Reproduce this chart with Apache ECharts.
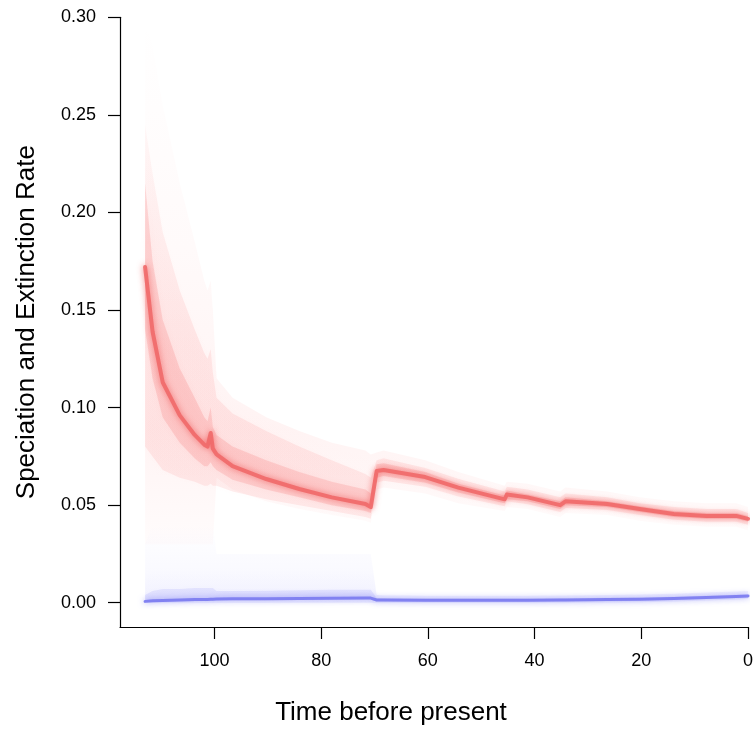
<!DOCTYPE html>
<html>
<head>
<meta charset="utf-8">
<script src="https://cdn.jsdelivr.net/npm/echarts@6/dist/echarts.min.js"></script>
<style>html,body{margin:0;padding:0;background:#fff}#c{width:756px;height:731px}</style>
</head>
<body>
<div id="c"></div>
<script>
// Time before present (Ma)
const times = [113, 111.6, 109.7, 106.5, 103.7, 101.9, 101.3, 100.7, 100.3, 99.6, 96.6, 90.3, 84.1, 78, 71.7, 70.7, 69.6, 68.3, 60.5, 54.3, 45.6, 45.2, 41.3, 35.2, 34.2, 26.4, 20.3, 13.9, 7.8, 2.2, 0];

// Speciation rate (red)
const speciationMedian = [0.172,0.139,0.113,0.096,0.086,0.081,0.080,0.087,0.079,0.076,0.070,0.0634,0.0583,0.054,0.0506,0.049,0.0675,0.068,0.0644,0.059,0.053,0.0555,0.054,0.050,0.052,0.0506,0.048,0.0455,0.0445,0.0445,0.043];
const speciationInnerLow = [0.140,0.115,0.095,0.082,0.074,0.070,0.070,0.072,0.070,0.068,0.063,0.058,0.054,0.050,0.047,0.046,0.064,0.065,0.0615,0.0565,0.051,0.053,0.052,0.048,0.050,0.049,0.0465,0.044,0.043,0.043,0.0415];
const speciationInnerHigh = [0.215,0.175,0.145,0.120,0.105,0.095,0.093,0.100,0.090,0.086,0.080,0.073,0.067,0.062,0.058,0.056,0.071,0.0715,0.067,0.061,0.055,0.0575,0.0555,0.052,0.054,0.052,0.0495,0.047,0.046,0.046,0.0445];
const speciationOuterLow = [0.080,0.075,0.068,0.064,0.062,0.060,0.060,0.061,0.060,0.060,0.057,0.053,0.050,0.047,0.044,0.043,0.0615,0.0625,0.0595,0.0545,0.0495,0.052,0.0505,0.0465,0.0485,0.0475,0.045,0.0425,0.0415,0.0415,0.040];
const speciationOuterHigh = [0.245,0.220,0.190,0.160,0.140,0.128,0.125,0.130,0.118,0.105,0.097,0.088,0.080,0.073,0.066,0.064,0.073,0.074,0.069,0.0635,0.057,0.0595,0.058,0.054,0.056,0.054,0.051,0.049,0.048,0.048,0.046];
const speciationFaintLow = [0.03,0.03,0.03,0.03,0.03,0.03,0.03,0.03,0.03,0.064,0.058,0.052,0.048,0.045,0.042,0.041,0.058,0.059,0.056,0.051,0.047,0.049,0.048,0.044,0.046,0.045,0.042,0.040,0.039,0.039,0.037];
const speciationFaintHigh = [0.300,0.285,0.255,0.215,0.185,0.165,0.160,0.165,0.150,0.115,0.105,0.095,0.088,0.082,0.078,0.076,0.077,0.078,0.073,0.067,0.060,0.062,0.061,0.057,0.059,0.057,0.054,0.052,0.051,0.051,0.049];

// Extinction rate (blue)
const extinctionMedian = [0.0007,0.0010,0.0012,0.0014,0.0016,0.0017,0.0017,0.0018,0.0018,0.0019,0.0020,0.0021,0.0022,0.0023,0.0024,0.0024,0.0014,0.0014,0.0013,0.0013,0.0013,0.0013,0.0013,0.0014,0.0014,0.0016,0.0018,0.0022,0.0027,0.0032,0.0035];
const extinctionInnerLow = [0,0.0002,0.0004,0.0006,0.0008,0.0009,0.0009,0.001,0.001,0.0011,0.0012,0.0013,0.0014,0.0015,0.0016,0.0016,0.0006,0.0006,0.0005,0.0005,0.0005,0.0005,0.0005,0.0006,0.0006,0.0008,0.001,0.0014,0.0019,0.0024,0.0027];
const extinctionInnerHigh = [0.004,0.006,0.007,0.007,0.0075,0.0075,0.0075,0.0075,0.0075,0.006,0.006,0.0062,0.0064,0.0066,0.0066,0.0066,0.0024,0.0023,0.0022,0.0022,0.0022,0.0022,0.0022,0.0023,0.0023,0.0025,0.0027,0.0031,0.0036,0.0041,0.0044];
const extinctionFaintLow = [0,0,0,0,0,0,0,0,0,0,0,0,0,0,0,0,0,0,0,0,0,0,0,0,0,0.0001,0.0003,0.0007,0.0012,0.0017,0.002];
const extinctionFaintHigh = [0.03,0.04,0.04,0.04,0.04,0.04,0.04,0.04,0.04,0.025,0.025,0.025,0.025,0.025,0.025,0.025,0.004,0.0038,0.0036,0.0036,0.0036,0.0036,0.0036,0.0037,0.0037,0.004,0.0042,0.0046,0.0052,0.0058,0.006];

// Axis ticks
const xTicks = [0, 20, 40, 60, 80, 100];
const yTicks = [0, 0.05, 0.10, 0.15, 0.20, 0.25, 0.30];

const FONT = "'Liberation Sans', Arial, Helvetica, sans-serif";

function vgrad(stops) {
  return { type: 'linear', x: 0, y: 0, x2: 0, y2: 1, global: false,
    colorStops: stops.map(s => ({ offset: s[0], color: s[1] })) };
}

function bandSeries(lo, hi, fill, blur, glow, z) {
  return {
    type: 'custom',
    z: z,
    silent: true,
    clip: true,
    encode: { x: 0, y: [1, 2] },
    data: times.map((t, i) => [t, lo[i], hi[i]]),
    renderItem: function (params, api) {
      if (params.dataIndex !== 0) return null;
      const pts = [];
      for (let i = 0; i < times.length; i++) pts.push(api.coord([times[i], hi[i]]));
      for (let i = times.length - 1; i >= 0; i--) pts.push(api.coord([times[i], lo[i]]));
      return { type: 'polygon', shape: { points: pts },
        style: { fill: fill, stroke: null, shadowBlur: blur, shadowColor: glow } };
    }
  };
}

function lineSeries(vals, color, width, glow, z) {
  return {
    type: 'line',
    z: z,
    silent: true,
    showSymbol: false,
    symbol: 'none',
    clip: true,
    data: times.map((t, i) => [t, vals[i]]),
    lineStyle: { color: color, width: width, shadowBlur: 6, shadowColor: glow, cap: 'round', join: 'round' }
  };
}

const chart = echarts.init(document.getElementById('c'), null, { renderer: 'canvas' });
chart.setOption({
  animation: false,
  backgroundColor: '#ffffff',
  grid: { left: 120, right: 4.4, top: 17.3, bottom: 102.7, containLabel: false },
  xAxis: {
    type: 'value',
    inverse: true,
    min: 0,
    max: 117.7,
    name: 'Time before present',
    nameLocation: 'middle',
    nameGap: 73,
    nameTextStyle: { fontFamily: FONT, fontSize: 26, color: '#000', padding: [0, 86, 0, 0] },
    axisLine: { show: true, onZero: false, lineStyle: { color: '#000', width: 1.2 } },
    axisTick: { show: true, inside: false, length: 12, customValues: xTicks, lineStyle: { color: '#000', width: 1.2 } },
    axisLabel: { customValues: xTicks, fontFamily: FONT, fontSize: 18, color: '#000', margin: 25 },
    splitLine: { show: false }
  },
  yAxis: {
    type: 'value',
    min: -0.01243,
    max: 0.30,
    name: 'Speciation and Extinction Rate',
    nameLocation: 'middle',
    nameGap: 80,
    nameTextStyle: { fontFamily: FONT, fontSize: 26, color: '#000' },
    axisLine: { show: true, onZero: false, lineStyle: { color: '#000', width: 1.2 } },
    axisTick: { show: true, inside: false, length: 12, customValues: yTicks, lineStyle: { color: '#000', width: 1.2 } },
    axisLabel: { customValues: yTicks, fontFamily: FONT, fontSize: 18, color: '#000', margin: 24,
      formatter: v => Number(v).toFixed(2) },
    splitLine: { show: false }
  },
  series: [
    bandSeries(extinctionFaintLow, extinctionFaintHigh,
      vgrad([[0, 'rgba(110,110,255,0)'], [0.6, 'rgba(110,110,255,0.04)'], [1, 'rgba(110,110,255,0.10)']]),
      10, 'rgba(110,110,255,0.05)', 1),
    bandSeries(speciationFaintLow, speciationFaintHigh,
      vgrad([[0, 'rgba(255,90,90,0)'], [0.45, 'rgba(255,90,90,0.03)'], [0.78, 'rgba(255,90,90,0.07)'], [1, 'rgba(255,90,90,0.02)']]),
      12, 'rgba(255,90,90,0.04)', 2),
    bandSeries(speciationOuterLow, speciationOuterHigh,
      vgrad([[0, 'rgba(250,80,80,0.04)'], [0.5, 'rgba(250,80,80,0.10)'], [1, 'rgba(250,80,80,0.10)']]),
      10, 'rgba(250,80,80,0.10)', 3),
    bandSeries(speciationInnerLow, speciationInnerHigh, 'rgba(245,80,80,0.17)', 8, 'rgba(245,80,80,0.17)', 4),
    bandSeries(extinctionInnerLow, extinctionInnerHigh, 'rgba(110,110,250,0.12)', 6, 'rgba(110,110,250,0.12)', 5),
    lineSeries(speciationMedian, 'rgba(240,105,105,0.9)', 4, 'rgba(240,80,80,0.8)', 10),
    lineSeries(extinctionMedian, 'rgba(125,125,240,0.95)', 3, 'rgba(110,110,240,0.7)', 11)
  ]
});
</script>
</body>
</html>
